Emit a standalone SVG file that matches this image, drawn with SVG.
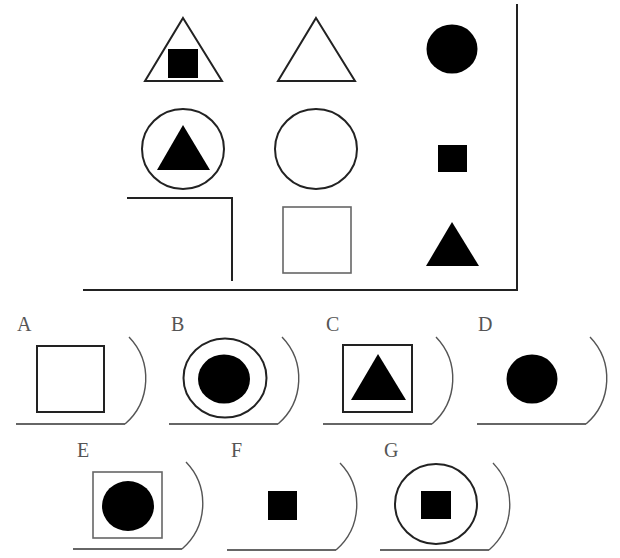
<svg xmlns="http://www.w3.org/2000/svg" xmlns:xlink="http://www.w3.org/1999/xlink" width="620" height="558" viewBox="0 0 620 558">
<style>
.o{fill:none;stroke:#222;stroke-width:2}
.t{fill:none;stroke:#666;stroke-width:1.6}
.f{fill:#000;stroke:none}
.fr{fill:none;stroke:#333;stroke-width:1.6}
.ar{fill:none;stroke:#555;stroke-width:1.4}
.lb{font-family:"Liberation Serif","DejaVu Serif",serif;font-size:20px;fill:#555}
</style>
<defs>
<g id="frame">
<path class="fr" d="M0,0 H109"/>
<path class="ar" d="M113,-87 A60,60 0 0 1 109,0"/>
</g>
</defs>
<rect width="620" height="558" fill="#fff"/>
<g id="matrix-border">
<path class="o" d="M517,4 V290 H83"/>
<path class="o" d="M127,198 H232 V281"/>
</g>
<g id="m11"><polygon class="o" points="183,18 222,81 145,81"/><rect class="f" x="168" y="49" width="30" height="29"/></g>
<g id="m12"><polygon class="o" points="316,18 355,81 278,81"/></g>
<g id="m13"><ellipse class="f" cx="452" cy="49" rx="25.5" ry="24.5"/></g>
<g id="m21"><ellipse class="o" cx="183" cy="149" rx="41" ry="40"/><polygon class="f" points="183,125 210,170 157,170"/></g>
<g id="m22"><ellipse class="o" cx="316" cy="149" rx="41" ry="40"/></g>
<g id="m23"><rect class="f" x="438" y="145" width="29" height="27"/></g>
<g id="m32"><rect class="t" x="283" y="207" width="68" height="66"/></g>
<g id="m33"><polygon class="f" points="452,222 479,266 426,266"/></g>
<g id="optA"><use xlink:href="#frame" x="16" y="424"/><text class="lb" x="17" y="331">A</text><rect class="o" x="37" y="346" width="67" height="66" stroke="#333"/></g>
<g id="optB"><use xlink:href="#frame" x="169" y="424"/><text class="lb" x="171" y="331">B</text><ellipse class="o" cx="225" cy="378" rx="41.5" ry="39.5"/><ellipse class="f" cx="224" cy="379" rx="26" ry="24.5"/></g>
<g id="optC"><use xlink:href="#frame" x="323" y="424"/><text class="lb" x="326" y="331">C</text><rect class="o" x="343" y="345" width="69" height="67"/><polygon class="f" points="378,354 406,400 351,400"/></g>
<g id="optD"><use xlink:href="#frame" x="477" y="424"/><text class="lb" x="478" y="331">D</text><ellipse class="f" cx="532" cy="379" rx="25.5" ry="24.5"/></g>
<g id="optE"><use xlink:href="#frame" x="73" y="549"/><text class="lb" x="77" y="457">E</text><rect class="t" x="93" y="472" width="69" height="66"/><ellipse class="f" cx="128" cy="506" rx="26" ry="25"/></g>
<g id="optF"><use xlink:href="#frame" x="227" y="550"/><text class="lb" x="231" y="457">F</text><rect class="f" x="268" y="491" width="29" height="29"/></g>
<g id="optG"><use xlink:href="#frame" x="380" y="550"/><text class="lb" x="384" y="457">G</text><ellipse class="o" cx="436" cy="504" rx="41" ry="40"/><rect class="f" x="421" y="491" width="30" height="28"/></g>
</svg>
